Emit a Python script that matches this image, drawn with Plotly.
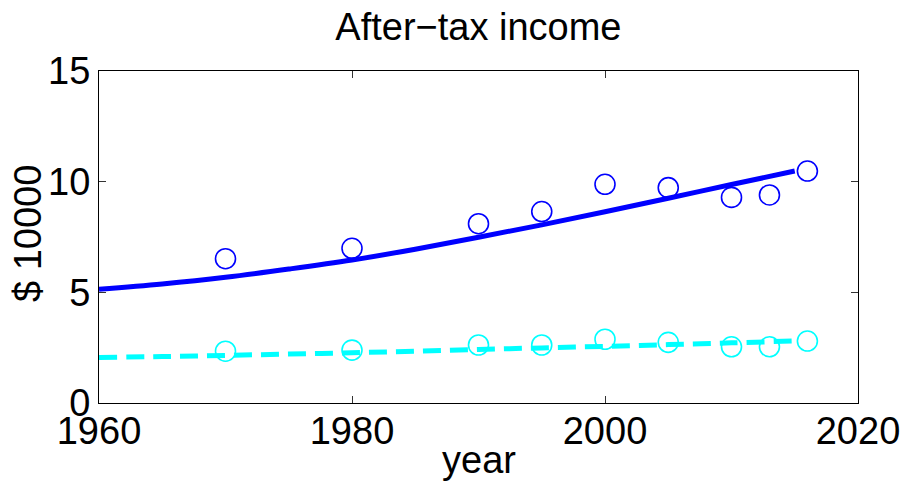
import plotly.graph_objects as go

# Observed data points
years_obs = [1970, 1980, 1990, 1995, 2000, 2005, 2010, 2013, 2016]
top_obs = [6.52, 6.99, 8.10, 8.65, 9.88, 9.73, 9.29, 9.40, 10.48]
bottom_obs = [2.34, 2.39, 2.62, 2.62, 2.88, 2.74, 2.54, 2.54, 2.80]

# Fitted curves
years_fit = [1960, 1965, 1970, 1975, 1980, 1985, 1990, 1995, 2000, 2005, 2010, 2015]
top_fit = [5.14, 5.38, 5.68, 6.05, 6.46, 6.95, 7.49, 8.05, 8.64, 9.25, 9.87, 10.48]
bottom_fit = [2.06, 2.10, 2.15, 2.21, 2.27, 2.34, 2.42, 2.49, 2.56, 2.64, 2.72, 2.80]

x_ticks = [1960, 1980, 2000, 2020]
y_ticks = [0, 5, 10, 15]

BLUE = "#0000FF"
CYAN = "#00FFFF"
FONT = "Liberation Sans, Arial, Helvetica, sans-serif"
FS = 38

fig = go.Figure()
fig.add_trace(go.Scatter(x=years_fit, y=top_fit, mode="lines", line=dict(color=BLUE, width=5, shape="spline"), showlegend=False))
fig.add_trace(go.Scatter(x=years_obs, y=top_obs, mode="markers",
                         marker=dict(symbol="circle-open", size=20, color=BLUE, line=dict(width=1.6, color=BLUE)), showlegend=False))
fig.add_trace(go.Scatter(x=years_obs, y=bottom_obs, mode="markers",
                         marker=dict(symbol="circle-open", size=20, color=CYAN, line=dict(width=1.6, color=CYAN)), showlegend=False))
fig.add_trace(go.Scatter(x=years_fit, y=bottom_fit, mode="lines",
                         line=dict(color=CYAN, width=5, dash="18px,9px", shape="spline"), showlegend=False))

axis_common = dict(
    showgrid=False, zeroline=False, showline=True, linecolor="black", linewidth=1,
    mirror="ticks", ticks="inside", ticklen=7, tickwidth=1, tickcolor="#333333",
    tickfont=dict(family=FONT, size=FS, color="black"), automargin=False,
)

fig.update_layout(
    width=903, height=481,
    margin=dict(l=99, r=45, t=71, b=78),
    paper_bgcolor="white", plot_bgcolor="white",
    font=dict(family=FONT, color="black"),
    title=dict(text="After\u2212tax income", x=(478.4 / 903), xanchor="center", y=1 - 26.5 / 481, yanchor="middle",
               font=dict(family=FONT, size=FS, color="black")),
    xaxis=dict(range=[1960, 2020], tickvals=x_ticks, ticktext=[str(v) for v in x_ticks],
               ticklabelstandoff=-6, **axis_common),
    yaxis=dict(range=[0, 15], tickvals=y_ticks, ticktext=[str(v) for v in y_ticks], **axis_common),
    annotations=[
        dict(text="year", xref="paper", yref="paper", x=0.5, y=(403 - 460) / 332, xanchor="center", yanchor="middle",
             showarrow=False, font=dict(family=FONT, size=FS, color="black")),
        dict(text="$ 10000", xref="paper", yref="paper", x=(28 - 99) / 758.7, y=(403 - 233) / 332, xanchor="center",
             yanchor="middle", textangle=-90, showarrow=False, font=dict(family=FONT, size=FS, color="black")),
    ],
)

fig.write_html("out.html", config={"displayModeBar": False},
               post_script="document.body.style.margin='0';document.body.style.overflow='hidden';")
